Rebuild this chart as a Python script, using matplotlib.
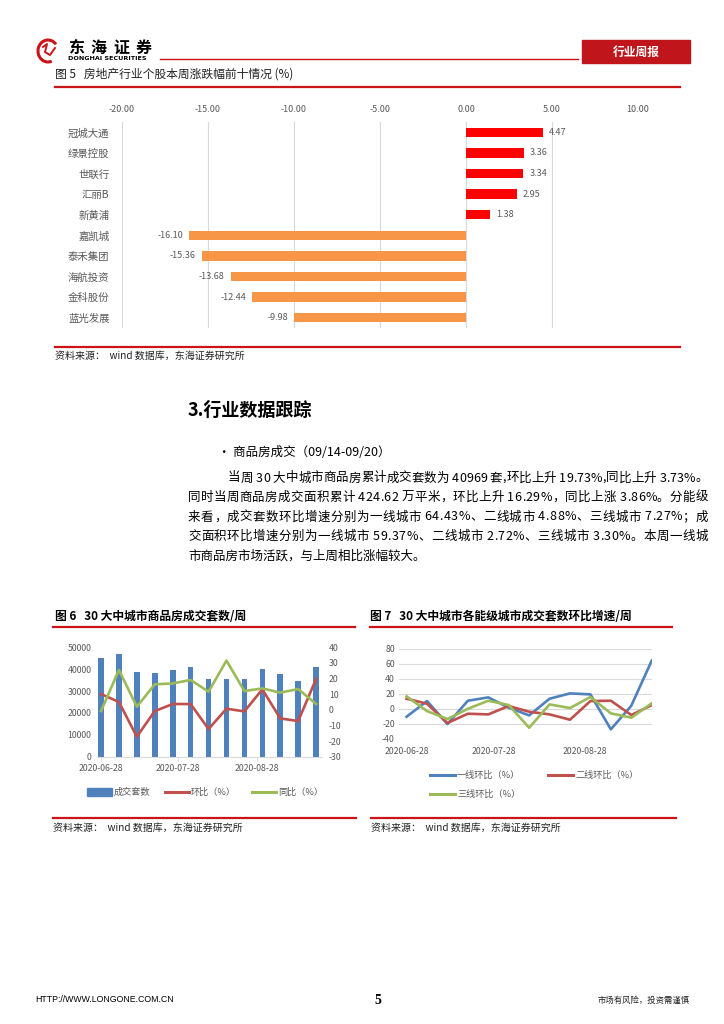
import matplotlib
matplotlib.use("Agg")
import matplotlib.pyplot as plt
import matplotlib.patches as mpatches
import matplotlib.dates as mdates
from matplotlib.font_manager import findfont, FontProperties
from matplotlib.ft2font import FT2Font
from datetime import datetime

plt.rcParams['font.family'] = ['Noto Sans CJK SC', 'DejaVu Sans']
plt.rcParams['axes.unicode_minus'] = False

W, H = 724, 1024
RED = '#CC1418'
GRAY = '#595959'
GRID = '#D9D9D9'
BLUE = '#4F81BD'
DRED = '#C0504D'
GREEN = '#9BBB59'

# ---- data: fig 5 (weekly change of top/bottom stocks, %)
stocks = ['冠城大通', '绿景控股', '世联行', '汇丽B', '新黄浦',
          '嘉凯城', '泰禾集团', '海航投资', '金科股份', '蓝光发展']
changes = [4.47, 3.36, 3.34, 2.95, 1.38, -16.10, -15.36, -13.68, -12.44, -9.98]

# ---- data: fig 6 / fig 7 (weekly)
weeks = ['2020-06-28', '2020-07-05', '2020-07-12', '2020-07-19', '2020-07-26',
         '2020-08-02', '2020-08-09', '2020-08-16', '2020-08-23', '2020-08-30',
         '2020-09-06', '2020-09-13', '2020-09-20']
date_ticks = ['2020-06-28', '2020-07-28', '2020-08-28']
deals = [45000, 47000, 38700, 38300, 39600, 40800, 35300, 35700, 35300,
         40300, 37900, 34700, 40969]
deals_hb = [10.1, 5.0, -17.2, -0.8, 3.7, 3.7, -12.3, 0.7, -1.0, 13.1, -5.5, -7.2, 19.73]
deals_tb = [-0.8, 25.5, 2.0, 16.3, 16.9, 19.1, 11.6, 31.5, 12.0, 13.7, 11.0, 13.3, 3.73]
tier1 = [-10.6, 10.4, -20.4, 10.8, 15.3, 1.5, -8.8, 13.5, 20.6, 19.3, -27.5, 4.1, 64.43]
tier2 = [13.5, 6.8, -19.0, -6.6, -7.5, 3.7, -3.9, -7.5, -14.6, 10.4, 10.8, -8.3, 4.88]
tier3 = [16.6, -3.0, -13.7, 0.0, 10.8, 5.0, -25.3, 5.9, 1.0, 15.8, -6.1, -11.9, 7.27]

para = [
    "当周 30 大中城市商品房累计成交套数为 40969 套,环比上升 19.73%,同比上升 3.73%。",
    "同时当周商品房成交面积累计 424.62 万平米，环比上升 16.29%，同比上涨 3.86%。分能级",
    "来看，成交套数环比增速分别为一线城市 64.43%、二线城市 4.88%、三线城市 7.27%；成",
    "交面积环比增速分别为一线城市 59.37%、二线城市 2.72%、三线城市 3.30%。本周一线城",
    "市商品房市场活跃，与上周相比涨幅较大。",
]

dates = [datetime.strptime(d, '%Y-%m-%d') for d in weeks]
tick_dates = [datetime.strptime(d, '%Y-%m-%d') for d in date_ticks]

fig = plt.figure(figsize=(W / 100, H / 100), dpi=100)

# page layer in pixel coordinates
bg = fig.add_axes([0, 0, 1, 1])
bg.set_xlim(0, W)
bg.set_ylim(H, 0)
bg.axis('off')


def ax_at(x0, y0, x1, y1):
    return fig.add_axes([x0 / W, 1 - y1 / H, (x1 - x0) / W, (y1 - y0) / H])


# ---- header
bg.add_patch(mpatches.Arc((48, 51), 20, 22, theta1=70, theta2=320, color=RED, lw=2.2))
bg.plot([43, 47, 45, 50, 55], [47, 44, 52, 55, 48], color=RED, lw=1.4)
for i, ch in enumerate('东海证券'):
    bg.text(68 + i * 22.5, 48, ch, fontsize=11.5, fontweight='bold', va='center', ha='left')
bg.text(68, 59, 'DONGHAI SECURITIES', fontsize=4.6, fontweight='bold', va='center',
        ha='left', family='DejaVu Sans')
bg.plot([160, 578], [59, 59], color=RED, lw=1.0)
bg.add_patch(mpatches.Rectangle((582, 40), 108, 23, color='#C0161B'))
bg.text(636, 52, '行业周报', color='white', fontsize=8.5, fontweight='bold', ha='center', va='center')

# ---- figure 5
bg.text(55, 74, '图 5   房地产行业个股本周涨跌幅前十情况 (%)', fontsize=8.5, va='center', color='#222222')
bg.plot([55, 680], [87, 87], color=RED, lw=1.6)

ax5 = ax_at(122, 122, 638, 328)
colors5 = ['#FF0000' if v > 0 else '#F79646' for v in changes]
ax5.barh(range(len(stocks)), changes, height=0.45, color=colors5, zorder=3)
ax5.set_xlim(-20, 10)
ax5.set_ylim(len(stocks) - 0.5, -0.5)
ax5.set_xticks(range(-20, 11, 5))
ax5.set_xticklabels([f'{v:.2f}' for v in range(-20, 11, 5)])
ax5.xaxis.tick_top()
ax5.set_yticks(range(len(stocks)))
ax5.set_yticklabels(stocks)
ax5.tick_params(axis='x', length=0, pad=6, labelsize=6.5, labelcolor=GRAY)
ax5.tick_params(axis='y', length=0, pad=9, labelsize=7.5, labelcolor=GRAY)
ax5.grid(axis='x', color=GRID, lw=0.8, zorder=0)
for s in ax5.spines.values():
    s.set_visible(False)
for i, v in enumerate(changes):
    if v > 0:
        ax5.text(v + 0.35, i, f'{v:.2f}', ha='left', va='center', fontsize=6.5, color=GRAY)
    else:
        ax5.text(v - 0.35, i, f'{v:.2f}', ha='right', va='center', fontsize=6.5, color=GRAY)

bg.plot([55, 680], [347, 347], color=RED, lw=1.6)
bg.text(55, 356, '资料来源：  wind 数据库，东海证券研究所', fontsize=7.2, va='center', color='#222222')

# ---- section text
bg.text(188, 410, '3.行业数据跟踪', fontsize=13, fontweight='bold', va='center')
bg.text(218, 452, '• 商品房成交（09/14-09/20）', fontsize=9, va='center')

body_fp = FontProperties(family='Noto Sans CJK SC', size=9)
ft = FT2Font(findfont(body_fp))
ft.set_size(9, 100)


def adv(c):
    g = ft.load_char(ord(c))
    return g.linearHoriAdvance / 65536


line_y = [478, 497.5, 517, 536.5, 556]
for k, line in enumerate(para):
    x0 = 228 if k == 0 else 188
    if k == len(para) - 1:
        bg.text(x0, line_y[k], line, fontsize=9, va='center', ha='left')
        continue
    widths = [adv(c) for c in line]
    gap = (708 - x0 - sum(widths)) / (len(line) - 1)
    x = x0
    for c, w in zip(line, widths):
        if c != ' ':
            bg.text(x, line_y[k], c, fontsize=9, va='center', ha='left')
        x += w + gap

# ---- figure 6
bg.text(55, 617, '图 6   30 大中城市商品房成交套数/周', fontsize=8.5, fontweight='bold', va='center')
bg.plot([53, 355], [627, 627], color=RED, lw=1.6)

ax6 = ax_at(97, 647.3, 322, 756.7)
ax6.bar(dates, deals, width=2.2, color=BLUE, zorder=2)
ax6.set_ylim(0, 50000)
ax6.set_yticks(range(0, 50001, 10000))
ax6.set_xlim(mdates.date2num(dates[0]) - 1.56, mdates.date2num(dates[-1]) + 2.3)
ax6.set_xticks(tick_dates)
ax6.xaxis.set_major_formatter(mdates.DateFormatter('%Y-%m-%d'))
ax6.tick_params(axis='x', length=3, width=0.6, color=GRID, pad=2, labelsize=6.3, labelcolor=GRAY)
ax6.tick_params(axis='y', length=0, pad=4, labelsize=6.3, labelcolor=GRAY)
for s in ['top', 'left', 'right']:
    ax6.spines[s].set_visible(False)
ax6.spines['bottom'].set_color(GRID)
ax6r = ax6.twinx()
ax6r.plot(dates, deals_hb, color=DRED, lw=1.9, zorder=3)
ax6r.plot(dates, deals_tb, color=GREEN, lw=1.9, zorder=3)
ax6r.set_ylim(-30, 40)
ax6r.set_yticks(range(-30, 41, 10))
ax6r.tick_params(axis='y', length=0, pad=5, labelsize=6.3, labelcolor=GRAY)
for s in ax6r.spines.values():
    s.set_visible(False)

# legend fig 6
bg.add_patch(mpatches.Rectangle((87, 788), 25, 8, color=BLUE))
bg.text(114, 792, '成交套数', fontsize=6.6, color=GRAY, va='center')
bg.plot([165, 189], [792, 792], color=DRED, lw=2.2)
bg.text(191, 792, '环比（%）', fontsize=6.6, color=GRAY, va='center')
bg.plot([252, 276], [792, 792], color=GREEN, lw=2.2)
bg.text(278, 792, '同比（%）', fontsize=6.6, color=GRAY, va='center')

# ---- figure 7
bg.text(370, 617, '图 7   30 大中城市各能级城市成交套数环比增速/周', fontsize=8.5, fontweight='bold', va='center')
bg.plot([370, 672], [627, 627], color=RED, lw=1.6)

ax7 = ax_at(399, 649, 652, 738.7)
ax7.plot(dates, tier1, color=BLUE, lw=1.9, zorder=3)
ax7.plot(dates, tier2, color=DRED, lw=1.9, zorder=3)
ax7.plot(dates, tier3, color=GREEN, lw=1.9, zorder=3)
ax7.set_ylim(-40, 80)
ax7.set_yticks(range(-40, 81, 20))
ax7.set_xlim(mdates.date2num(dates[0]) - 2.6, mdates.date2num(dates[-1]) + 0.1)
ax7.set_xticks(tick_dates)
ax7.xaxis.set_major_formatter(mdates.DateFormatter('%Y-%m-%d'))
ax7.grid(axis='y', color=GRID, lw=0.8, zorder=0)
ax7.tick_params(axis='x', length=0, pad=6, labelsize=6.3, labelcolor=GRAY)
ax7.tick_params(axis='y', length=0, pad=3, labelsize=6.3, labelcolor=GRAY)
for s in ax7.spines.values():
    s.set_visible(False)

bg.plot([430, 455], [775, 775], color=BLUE, lw=2.2)
bg.text(457, 775, '一线环比（%）', fontsize=6.6, color=GRAY, va='center')
bg.plot([548, 573], [775, 775], color=DRED, lw=2.2)
bg.text(575, 775, '二线环比（%）', fontsize=6.6, color=GRAY, va='center')
bg.plot([430, 455], [794, 794], color=GREEN, lw=2.2)
bg.text(457, 794, '三线环比（%）', fontsize=6.6, color=GRAY, va='center')

# ---- sources
bg.plot([53, 356], [818, 818], color=RED, lw=1.6)
bg.plot([371, 676], [818, 818], color=RED, lw=1.6)
bg.text(53, 828, '资料来源：  wind 数据库，东海证券研究所', fontsize=7.2, va='center', color='#222222')
bg.text(371, 828, '资料来源：  wind 数据库，东海证券研究所', fontsize=7.2, va='center', color='#222222')

# ---- footer
bg.text(35, 1000, 'HTTP://WWW.LONGONE.COM.CN', fontsize=6.3, va='center', family='Liberation Sans')
bg.text(378, 1000, '5', fontsize=10, fontweight='bold', va='center', ha='center', family='Liberation Serif')
bg.text(690, 1000, '市场有风险，投资需谨慎', fontsize=6, va='center', ha='right', color='#222222')

fig.savefig('out.png', dpi=100)
